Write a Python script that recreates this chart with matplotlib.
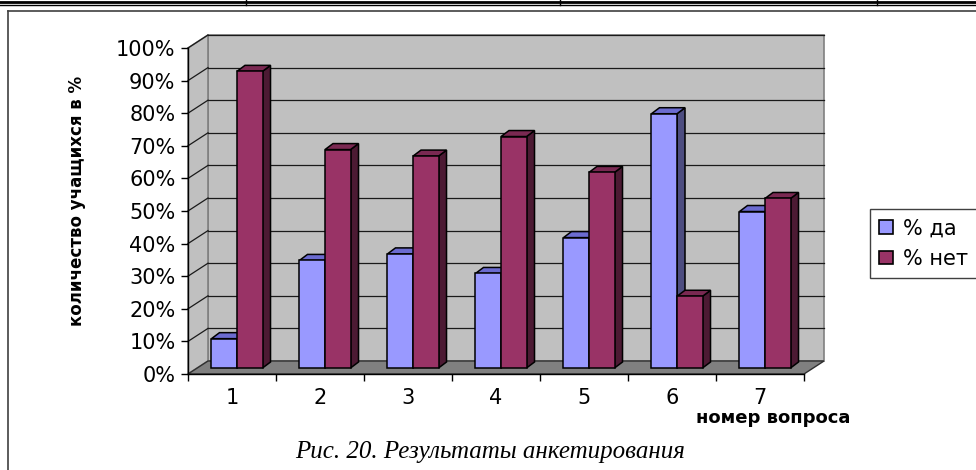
import numpy as np
import matplotlib
matplotlib.use("Agg")
import matplotlib.pyplot as plt
from matplotlib.patches import Polygon, Rectangle, Patch
from matplotlib.lines import Line2D
import matplotlib.transforms as mtransforms

# Survey results
questions = ["1", "2", "3", "4", "5", "6", "7"]
yes_pct = [9, 33, 35, 29, 40, 78, 48]
no_pct = [91, 67, 65, 71, 60, 22, 52]
series_labels = ["% да", "% нет"]

yes_colors = ("#9999ff", "#6b6bd0", "#4d4d80")   # front, top, side
no_colors = ("#993366", "#7a2952", "#4c1a33")

W, H = 976, 470
fig = plt.figure(figsize=(W / 100, H / 100), dpi=100)
fig.patch.set_facecolor("white")

# front plane of the plot area, pixels
left, right, bottom, top = 188, 804, 374, 48
ax = fig.add_axes([left / W, (H - bottom) / H, (right - left) / W, (bottom - top) / H])
ax.set_xlim(0, len(questions))
ax.set_ylim(0, 100)
ax.patch.set_visible(False)

ident = mtransforms.IdentityTransform()
wall_dx, wall_dy = 20, 13      # depth of the walls
bar_dx, bar_dy = 5, 6          # where the bars stand inside the box
depth_dx, depth_dy = 8, 6      # depth of each bar


def disp(x, y, dx=0, dy=0):
    px, py = ax.transData.transform((x, y))
    return (px + dx, py + dy)


n = len(questions)
back_tr = mtransforms.offset_copy(ax.transData, fig=fig, x=wall_dx, y=wall_dy, units="dots")
bar_tr = mtransforms.offset_copy(ax.transData, fig=fig, x=bar_dx, y=bar_dy, units="dots")

# back wall, side wall and floor
ax.add_patch(Rectangle((0, 0), n, 100, transform=back_tr, fc="#c0c0c0",
                       ec="#808080", lw=1.2, clip_on=False, zorder=0))
ax.add_patch(Polygon([disp(0, 0), disp(0, 100), disp(0, 100, wall_dx, wall_dy),
                      disp(0, 0, wall_dx, wall_dy)], closed=True, transform=ident,
                     fc="#c0c0c0", ec="#808080", lw=1.2, clip_on=False, zorder=0))
ax.add_patch(Polygon([disp(0, 0), disp(n, 0), disp(n, 0, wall_dx, wall_dy),
                      disp(0, 0, wall_dx, wall_dy)], closed=True, transform=ident,
                     fc="#808080", ec="#303030", lw=1.0, clip_on=False, zorder=1))

# gridlines on the back and side walls
for g in range(10, 101, 10):
    ax.plot([0, n], [g, g], transform=back_tr, color="#1a1a1a", lw=0.9,
            clip_on=False, zorder=0.5)
    p0, p1 = disp(0, g), disp(0, g, wall_dx, wall_dy)
    ax.add_line(Line2D([p0[0], p1[0]], [p0[1], p1[1]], transform=ident,
                       color="#1a1a1a", lw=0.9, clip_on=False, zorder=0.5))

# 3d bars
width = 0.29
centers = np.arange(n) + 0.5
z = 2
for i in range(n):
    for vals, offs, cols in ((yes_pct, -0.5, yes_colors), (no_pct, 0.5, no_colors)):
        x0 = centers[i] + offs * width - width / 2
        x1 = x0 + width
        h = vals[i]
        a = disp(x0, 0, bar_dx, bar_dy)
        b = disp(x1, 0, bar_dx, bar_dy)
        c = disp(x1, h, bar_dx, bar_dy)
        d = disp(x0, h, bar_dx, bar_dy)
        side = [b, c, (c[0] + depth_dx, c[1] + depth_dy), (b[0] + depth_dx, b[1] + depth_dy)]
        topf = [d, c, (c[0] + depth_dx, c[1] + depth_dy), (d[0] + depth_dx, d[1] + depth_dy)]
        ax.add_patch(Polygon(side, closed=True, transform=ident, fc=cols[2], ec="black",
                             lw=1.1, clip_on=False, zorder=z))
        ax.add_patch(Polygon(topf, closed=True, transform=ident, fc=cols[1], ec="black",
                             lw=1.1, clip_on=False, zorder=z))
        ax.bar(centers[i] + offs * width, h, width, transform=bar_tr, color=cols[0],
               edgecolor="black", lw=1.1, clip_on=False, zorder=z + 0.1)
        z += 1

# axes
for s in ("top", "right"):
    ax.spines[s].set_visible(False)
for s in ("left", "bottom"):
    ax.spines[s].set_color("black")
    ax.spines[s].set_linewidth(1.0)
    ax.spines[s].set_zorder(z + 1)

ax.set_yticks(range(0, 101, 10))
ax.set_yticklabels([f"{v}%" for v in range(0, 101, 10)])
ax.tick_params(axis="y", length=5, width=1, pad=4, labelsize=15)
ax.set_xticks(range(0, n + 1))
ax.set_xticklabels([])
ax.set_xticks(centers, minor=True)
ax.set_xticklabels(questions, minor=True)
ax.tick_params(axis="x", which="major", length=5, width=1)
ax.tick_params(axis="x", which="minor", length=0, pad=10, labelsize=15)

ax.text((77 - left) / (right - left), (bottom - 201) / (bottom - top),
        "количество учащихся в %", transform=ax.transAxes, rotation=90,
        ha="center", va="center", fontsize=12, fontweight="bold")
ax.text((773 - left) / (right - left), (bottom - 418) / (bottom - top),
        "номер вопроса", transform=ax.transAxes, ha="center", va="center",
        fontsize=13, fontweight="bold")

handles = [Patch(fc=yes_colors[0], ec="black", lw=1.2),
           Patch(fc=no_colors[0], ec="black", lw=1.2)]
leg = fig.legend(handles, series_labels, loc="upper left",
                 bbox_to_anchor=(870 / W, 1 - 209 / H), fontsize=15,
                 handlelength=0.65, handleheight=0.65, handletextpad=0.5,
                 labelspacing=0.5, borderpad=0.45, borderaxespad=0,
                 fancybox=False, framealpha=1)
leg.get_frame().set_edgecolor("#404040")
leg.get_frame().set_linewidth(1.0)

fig.text(490 / W, 1 - 452 / H, "Рис. 20. Результаты анкетирования",
         ha="center", va="center", fontsize=18, style="italic",
         family="Liberation Serif")

# page frame and table rule above the figure
fig.add_artist(Line2D([8 / W, 8 / W], [0, 1 - 11 / H], color="#404040", lw=1.2))
fig.add_artist(Line2D([8 / W, 1], [1 - 11 / H, 1 - 11 / H], color="#404040", lw=1.2))
fig.add_artist(Line2D([0, 1], [1 - 1.5 / H, 1 - 1.5 / H], color="black", lw=2.0))
fig.add_artist(Line2D([0, 1], [1 - 4.5 / H, 1 - 4.5 / H], color="black", lw=1.0))
for vx in (246, 560, 877):
    fig.add_artist(Line2D([vx / W, vx / W], [1, 1 - 5 / H], color="black", lw=1.0))

fig.savefig("out.png", dpi=100)
